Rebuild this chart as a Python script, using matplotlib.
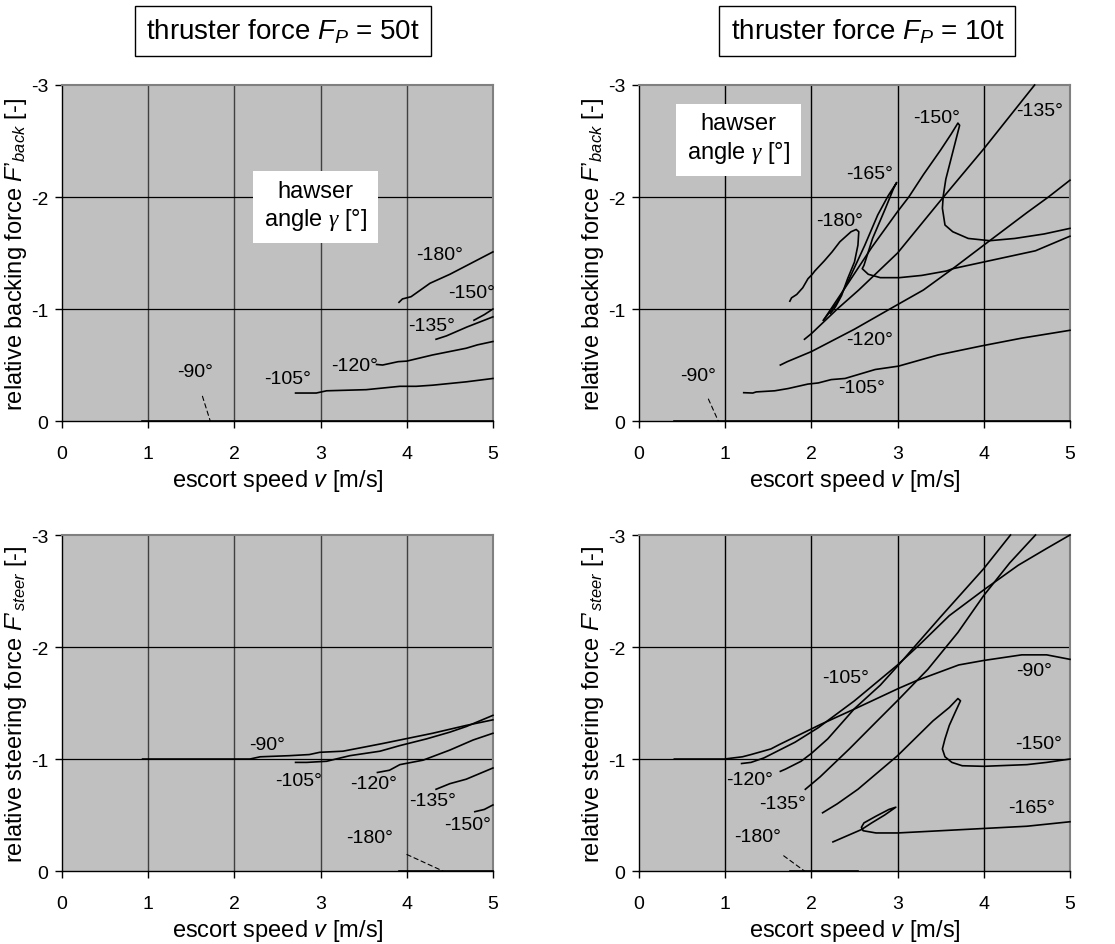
import numpy as np
import matplotlib
matplotlib.use('Agg')
import matplotlib.pyplot as plt

plt.rcParams['font.family'] = ['Liberation Sans', 'DejaVu Sans']
plt.rcParams['mathtext.fontset'] = 'custom'
plt.rcParams['mathtext.rm'] = 'Liberation Sans'
plt.rcParams['mathtext.it'] = 'Liberation Sans:italic'
plt.rcParams['mathtext.cal'] = 'Liberation Serif:italic'

speed_ticks = [0, 1, 2, 3, 4, 5]
force_ticks = [0, -1, -2, -3]
thrust_titles = ['thruster force $F_P$ = 50t', 'thruster force $F_P$ = 10t']

# backing force, thruster 50t  (escort speed, F'back)
back50_m90 = [(0.93, 0.0), (5.0, 0.0)]
back50_m105 = [(2.71, -0.25), (2.95, -0.25), (3.07, -0.27), (3.53, -0.28), (3.92, -0.31),
               (4.11, -0.31), (4.30, -0.32), (4.69, -0.35), (5.0, -0.38)]
back50_m120 = [(3.65, -0.505), (3.72, -0.50), (3.90, -0.53), (4.0, -0.535), (4.30, -0.59),
               (4.69, -0.65), (4.82, -0.68), (5.0, -0.71)]
back50_m135 = [(4.34, -0.73), (4.46, -0.76), (4.70, -0.84), (5.0, -0.93)]
back50_m150 = [(4.78, -0.90), (4.90, -0.95), (5.0, -1.00)]
back50_m180 = [(3.91, -1.06), (3.95, -1.09), (4.05, -1.11), (4.27, -1.23), (4.50, -1.31),
               (4.75, -1.41), (5.0, -1.51)]

# backing force, thruster 10t
back10_m90 = [(0.41, 0.0), (5.0, 0.0)]
back10_m105 = [(1.215, -0.253), (1.32, -0.25), (1.36, -0.26), (1.575, -0.27), (1.73, -0.29),
               (1.96, -0.33), (2.08, -0.34), (2.23, -0.37), (2.39, -0.38), (2.74, -0.46),
               (3.01, -0.49), (3.47, -0.59), (3.97, -0.67), (4.44, -0.74), (5.0, -0.81)]
back10_m120 = [(1.64, -0.50), (1.72, -0.53), (2.0, -0.62), (2.2, -0.70), (2.5, -0.82),
               (2.91, -1.0), (3.3, -1.17), (3.64, -1.36), (4.0, -1.57), (4.5, -1.86),
               (4.75, -2.0), (5.0, -2.15)]
back10_m135 = [(1.92, -0.73), (2.0, -0.78), (2.3, -1.0), (2.55, -1.17), (3.0, -1.50),
               (3.5, -1.97), (4.0, -2.43), (4.3, -2.72), (4.59, -3.0)]
back10_m150 = [(2.14, -0.90), (2.4, -1.2), (2.7, -1.55), (3.0, -1.87), (3.13, -2.0),
               (3.3, -2.2), (3.5, -2.42), (3.62, -2.56), (3.70, -2.66), (3.72, -2.64),
               (3.69, -2.55), (3.62, -2.34), (3.56, -2.16), (3.53, -2.01), (3.52, -1.90),
               (3.55, -1.75), (3.64, -1.69), (3.82, -1.63), (4.07, -1.61), (4.36, -1.63),
               (4.7, -1.67), (5.0, -1.72)]
back10_m165 = [(2.14, -0.90), (2.30, -1.06), (2.44, -1.27), (2.62, -1.57), (2.77, -1.84),
               (2.89, -2.01), (2.99, -2.13), (2.95, -2.07), (2.86, -1.90), (2.71, -1.63),
               (2.61, -1.39), (2.59, -1.36), (2.66, -1.31), (2.80, -1.28), (3.02, -1.28),
               (3.28, -1.30), (3.57, -1.34), (3.64, -1.36), (4.0, -1.42), (4.6, -1.52),
               (5.0, -1.65)]
back10_m180 = [(1.75, -1.07), (1.77, -1.10), (1.83, -1.13), (1.90, -1.19), (1.96, -1.27),
               (2.01, -1.31), (2.04, -1.34), (2.15, -1.43), (2.24, -1.51), (2.33, -1.60),
               (2.46, -1.69), (2.52, -1.71), (2.55, -1.69), (2.54, -1.57), (2.50, -1.42),
               (2.42, -1.27), (2.35, -1.12), (2.28, -1.02), (2.22, -0.96)]

# steering force, thruster 50t
steer50_m90 = [(0.935, -1.0), (2.18, -1.0), (2.30, -1.02), (2.64, -1.03), (2.87, -1.04),
               (2.99, -1.06), (3.26, -1.07), (3.53, -1.11), (3.73, -1.14), (4.11, -1.20),
               (4.30, -1.23), (4.69, -1.30), (5.0, -1.35)]
steer50_m105 = [(2.71, -0.97), (2.84, -0.97), (3.07, -0.98), (3.34, -1.03), (3.69, -1.07),
                (3.92, -1.12), (4.23, -1.18), (4.50, -1.24), (4.69, -1.29), (5.0, -1.39)]
steer50_m120 = [(3.66, -0.88), (3.80, -0.90), (3.92, -0.95), (4.19, -0.99), (4.50, -1.08),
                (4.77, -1.17), (5.0, -1.23)]
steer50_m135 = [(4.34, -0.73), (4.50, -0.78), (4.69, -0.82), (5.0, -0.92)]
steer50_m150 = [(4.79, -0.53), (4.90, -0.55), (5.0, -0.59)]
steer50_m180 = [(3.91, 0.0), (5.0, 0.0)]

# steering force, thruster 10t
steer10_m90 = [(0.41, -1.0), (0.99, -1.0), (1.2, -1.02), (1.30, -1.04), (1.53, -1.09),
               (1.63, -1.13), (1.95, -1.25), (2.11, -1.31), (2.51, -1.45), (3.01, -1.63),
               (3.22, -1.70), (3.71, -1.84), (4.0, -1.88), (4.44, -1.93), (4.73, -1.93),
               (5.0, -1.89)]
steer10_m105 = [(1.19, -0.96), (1.30, -0.97), (1.45, -1.01), (1.81, -1.15), (2.08, -1.28),
                (2.5, -1.52), (3.0, -1.84), (3.24, -2.01), (3.6, -2.28), (4.0, -2.51),
                (4.4, -2.73), (4.73, -2.88), (5.0, -3.0)]
steer10_m120 = [(1.64, -0.89), (1.70, -0.91), (1.88, -0.98), (2.0, -1.05), (2.19, -1.18),
                (2.5, -1.45), (2.8, -1.66), (3.0, -1.83), (3.5, -2.27), (4.0, -2.70),
                (4.31, -3.0)]
steer10_m135 = [(1.93, -0.73), (2.1, -0.84), (2.44, -1.09), (2.75, -1.33), (3.01, -1.53),
                (3.35, -1.80), (3.7, -2.13), (4.0, -2.46), (4.3, -2.75), (4.6, -3.0)]
steer10_m150 = [(2.13, -0.52), (2.3, -0.60), (2.54, -0.73), (3.0, -1.03), (3.41, -1.34),
                (3.6, -1.46), (3.70, -1.54), (3.73, -1.52), (3.67, -1.42), (3.60, -1.30),
                (3.55, -1.18), (3.52, -1.09), (3.55, -1.02), (3.63, -0.97), (3.75, -0.94),
                (4.0, -0.935), (4.5, -0.95), (4.73, -0.97), (5.0, -1.0)]
steer10_m165 = [(2.25, -0.26), (2.4, -0.31), (2.58, -0.37), (2.7, -0.43), (2.85, -0.50),
                (2.98, -0.57), (2.9, -0.55), (2.75, -0.49), (2.61, -0.43), (2.58, -0.39),
                (2.60, -0.36), (2.75, -0.34), (3.0, -0.34), (3.5, -0.36), (4.0, -0.38),
                (4.5, -0.40), (5.0, -0.44)]
steer10_m180 = [(1.75, 0.0), (2.54, 0.0)]

# curve labels: (text, label x, label y, leader end or None)
back50_labels = [('-180°', 4.38, -1.49, None), ('-150°', 4.75, -1.15, None),
                 ('-135°', 4.29, -0.85, None), ('-120°', 3.40, -0.50, None),
                 ('-105°', 2.62, -0.38, None), ('-90°', 1.54, -0.44, (1.72, 0.0))]
back10_labels = [('-150°', 3.45, -2.71, None), ('-135°', 4.65, -2.77, None),
                 ('-165°', 2.68, -2.21, None), ('-180°', 2.33, -1.79, None),
                 ('-120°', 2.68, -0.73, None), ('-105°', 2.58, -0.30, None),
                 ('-90°', 0.68, -0.41, (0.92, 0.0))]
steer50_labels = [('-90°', 2.38, -1.13, None), ('-105°', 2.74, -0.81, None),
                  ('-120°', 3.62, -0.78, None), ('-135°', 4.30, -0.63, None),
                  ('-150°', 4.71, -0.42, None), ('-180°', 3.57, -0.30, (4.42, 0.0))]
steer10_labels = [('-105°', 2.40, -1.73, None), ('-90°', 4.58, -1.79, None),
                  ('-150°', 4.63, -1.14, None), ('-165°', 4.55, -0.57, None),
                  ('-120°', 1.28, -0.82, None), ('-135°', 1.67, -0.60, None),
                  ('-180°', 1.37, -0.31, (1.92, 0.0))]

panels = [
    dict(pos=[0.0556, 0.5534, 0.3865, 0.3556], sub='back', legend=(2.94, -1.92),
         curves=[back50_m90, back50_m105, back50_m120, back50_m135, back50_m150, back50_m180],
         labels=back50_labels, vgrid='#404040'),
    dict(pos=[0.5731, 0.5534, 0.3865, 0.3556], sub='back', legend=(1.155, -2.52),
         curves=[back10_m90, back10_m105, back10_m120, back10_m135, back10_m150, back10_m165,
                 back10_m180],
         labels=back10_labels, vgrid='black'),
    dict(pos=[0.0556, 0.0772, 0.3865, 0.3556], sub='steer', legend=None,
         curves=[steer50_m90, steer50_m105, steer50_m120, steer50_m135, steer50_m150,
                 steer50_m180],
         labels=steer50_labels, vgrid='#404040'),
    dict(pos=[0.5731, 0.0772, 0.3865, 0.3556], sub='steer', legend=None,
         curves=[steer10_m90, steer10_m105, steer10_m120, steer10_m135, steer10_m150,
                 steer10_m165, steer10_m180],
         labels=steer10_labels, vgrid='black'),
]

fig = plt.figure(figsize=(11.15, 9.45), dpi=100)

for p in panels:
    ax = fig.add_axes(p['pos'])
    ax.set_facecolor('#c0c0c0')
    ax.set_xlim(0, 5)
    ax.set_ylim(0, -3)
    for v in speed_ticks[1:-1]:
        ax.axvline(v, color=p['vgrid'], lw=1.0, zorder=1)
    for f in force_ticks[1:-1]:
        ax.axhline(f, color='black', lw=0.9, zorder=1)

    for c in p['curves']:
        xs, ys = zip(*c)
        ax.plot(xs, ys, color='black', lw=1.2, zorder=3, clip_on=False,
                solid_joinstyle='round')

    for txt, lx, ly, lead in p['labels']:
        if lead is None:
            ax.text(lx, ly, txt, ha='center', va='center', fontsize=14, zorder=4)
        else:
            ax.annotate(txt, xy=lead, xytext=(lx, ly), ha='center', va='center',
                        fontsize=14, zorder=4,
                        arrowprops=dict(arrowstyle='-', ls=(0, (4, 3)), lw=0.8,
                                        color='black', shrinkA=10, shrinkB=0))

    if p['legend'] is not None:
        ax.text(p['legend'][0], p['legend'][1], 'hawser\nangle $\\mathcal{\\gamma}$ [°]',
                ha='center', va='center', fontsize=17, linespacing=1.25, zorder=5,
                bbox=dict(facecolor='white', edgecolor='none', boxstyle='square,pad=0.45'))

    ax.set_xticks(speed_ticks)
    ax.set_yticks(force_ticks)
    ax.set_yticklabels([str(t) for t in force_ticks])
    ax.tick_params(direction='out', length=5, width=1, labelsize=14)
    ax.tick_params(axis='x', pad=12)
    ax.tick_params(axis='y', pad=5)
    for s in ['left', 'bottom']:
        ax.spines[s].set_color('black')
        ax.spines[s].set_linewidth(1.0)
    for s in ['top', 'right']:
        ax.spines[s].set_color('#808080')
        ax.spines[s].set_linewidth(1.5)
    ax.set_xlabel('escort speed $v$ [m/s]', fontsize=17)
    ax.xaxis.set_label_coords(0.5, -0.138)
    rel = 'backing' if p['sub'] == 'back' else 'steering'
    ax.set_ylabel("relative %s force $F\\mathrm{\u2019}_{%s}$ [-]" % (rel, p['sub']),
                  fontsize=17)
    ax.yaxis.set_label_coords(-0.076, 0.5)

for i, t in enumerate(thrust_titles):
    fig.text([0.2534, 0.778][i], 0.966, t, ha='center', va='center', fontsize=20,
             bbox=dict(facecolor='white', edgecolor='black', lw=1.0,
                       boxstyle='square,pad=0.4'))

fig.savefig('out.png', dpi=100)
